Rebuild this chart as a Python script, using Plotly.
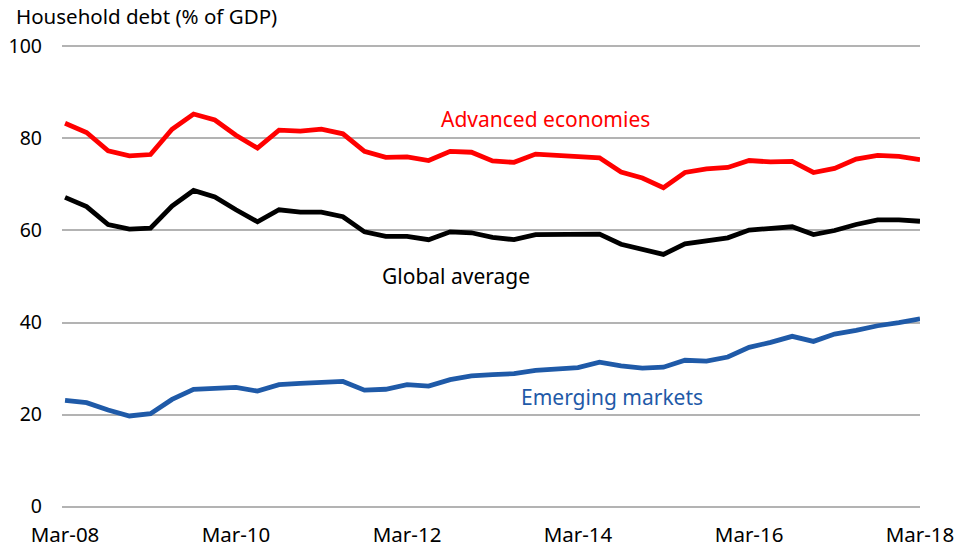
import plotly.graph_objects as go
import pandas as pd

dates = pd.date_range("2008-03-01", periods=41, freq="3MS").strftime("%Y-%m-%d").tolist()

advanced = [83.3, 81.3, 77.3, 76.2, 76.5, 82.0, 85.3, 84.0, 80.7, 77.9,
            81.8, 81.6, 82.0, 81.0, 77.2, 75.9, 76.0, 75.2, 77.2, 77.0,
            75.1, 74.8, 76.6, 76.3, 76.0, 75.8, 72.7, 71.4, 69.3, 72.6,
            73.4, 73.7, 75.2, 74.9, 75.0, 72.6, 73.5, 75.5, 76.3, 76.1, 75.4]

global_avg = [67.2, 65.2, 61.3, 60.3, 60.5, 65.3, 68.7, 67.3, 64.5, 61.9,
              64.5, 64.0, 64.0, 63.0, 59.7, 58.7, 58.7, 58.0, 59.7, 59.5,
              58.5, 58.0, 59.1, 59.1, 59.1, 59.2, 57.0, 55.9, 54.8, 57.1,
              57.7, 58.4, 60.1, 60.4, 60.8, 59.1, 60.0, 61.3, 62.3, 62.3, 62.0]

emerging = [23.1, 22.6, 21.0, 19.7, 20.2, 23.3, 25.5, 25.8, 25.9, 25.1,
            26.5, 26.8, 27.1, 27.2, 25.3, 25.5, 26.5, 26.2, 27.6, 28.4,
            28.7, 28.9, 29.6, 30.0, 30.2, 31.4, 30.6, 30.1, 30.3, 31.8,
            31.6, 32.5, 34.6, 35.7, 37.0, 35.9, 37.5, 38.3, 39.3, 40.0, 40.8]

tick_vals = ["2008-03-01", "2010-03-01", "2012-03-01", "2014-03-01", "2016-03-01", "2018-03-01"]
tick_text = ["Mar-08", "Mar-10", "Mar-12", "Mar-14", "Mar-16", "Mar-18"]
y_ticks = [0, 20, 40, 60, 80, 100]

RED = "#ff0000"
BLACK = "#000000"
BLUE = "#1f5aa8"

fig = go.Figure()
for vals, col, name in [(advanced, RED, "Advanced economies"),
                        (global_avg, BLACK, "Global average"),
                        (emerging, BLUE, "Emerging markets")]:
    fig.add_trace(go.Scatter(x=dates, y=vals, mode="lines", name=name,
                             line=dict(color=col, width=4.8), showlegend=False))

label_font = "Noto Sans, Open Sans, sans-serif"
fig.add_annotation(x="2013-10-12", y=84.2, text="Advanced economies", showarrow=False,
                   font=dict(family=label_font, size=21, color=RED))
fig.add_annotation(x="2012-09-28", y=50.1, text="Global average", showarrow=False,
                   font=dict(family=label_font, size=21, color=BLACK))
fig.add_annotation(x="2014-07-26", y=23.8, text="Emerging markets", showarrow=False,
                   font=dict(family=label_font, size=21, color=BLUE))
fig.add_annotation(xref="paper", yref="paper", x=0, xshift=-48, y=1.0, yshift=29,
                   xanchor="left", yanchor="middle", text="Household debt (% of GDP)",
                   showarrow=False, font=dict(family=label_font, size=20.5, color="#000000"))

fig.update_layout(
    width=955, height=547,
    margin=dict(l=62, r=35, t=45, b=39, autoexpand=False),
    paper_bgcolor="white", plot_bgcolor="white",
    xaxis=dict(type="date", range=["2008-02-17", "2018-03-01"], automargin=False,
               tickvals=tick_vals, ticktext=tick_text, showgrid=False,
               zeroline=False, showline=False, ticks="",
               ticklabelstandoff=12,
               tickfont=dict(family=label_font, size=20.5, color="#000000")),
    yaxis=dict(range=[-0.3, 100.3], tickvals=y_ticks, showgrid=True, gridcolor="#b3b3b3",
               gridwidth=2, zeroline=False, showline=False, ticks="", automargin=False,
               ticklabelstandoff=19,
               tickfont=dict(family=label_font, size=19.5, color="#000000")),
)

fig.write_html("out.html", config={"displayModeBar": False},
               post_script="document.body.style.margin='0';document.body.style.padding='0';")
